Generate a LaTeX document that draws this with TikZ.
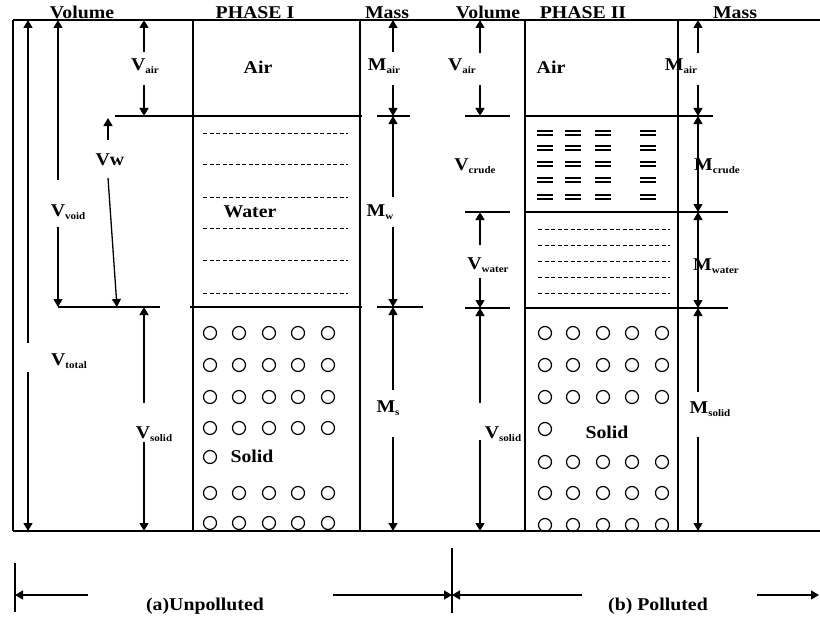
\documentclass[tikz,border=0pt]{standalone}
\usepackage{fontspec}
\setmainfont[FakeStretch=1.1]{Liberation Serif}
\usetikzlibrary{arrows.meta}
\newcommand{\lsub}[1]{\raisebox{-2.5pt}{\fontsize{10}{10}\selectfont #1}}
% dimension arrow with a gap: name, x, ytop, gap1, gap2, ybottom
\newcommand{\dimv}[6]{%
  \coordinate (#1-t) at (#2,#3);
  \coordinate (#1-a) at (#2,#4);
  \coordinate (#1-b) at (#2,#5);
  \coordinate (#1-e) at (#2,#6);
  \draw[dimarrow] (#1-a) -- (#1-t);
  \draw[dimarrow] (#1-b) -- (#1-e);}
\begin{document}
\begin{tikzpicture}[x=1pt,y=-1pt,line width=1.4pt,
  font=\fontsize{18}{20}\selectfont\bfseries,
  dimarrow/.style={line width=1.3pt,-{Triangle[length=8pt,width=9pt]}},
  dimboth/.style={line width=1.3pt,{Triangle[length=8pt,width=9pt]}-{Triangle[length=8pt,width=9pt]}},
  lbl/.style={inner sep=0pt,anchor=center},
  hdr/.style={inner sep=0pt,anchor=base},
  waterline/.style={line width=0.9pt,dash pattern=on 4pt off 2.5pt},
  grain/.style={line width=1.2pt},
  crude/.style={line width=1.8pt}]
\useasboundingbox (0,0) rectangle (820,618);

% frame
\draw (13,20) -- (820,20);
\draw (13,531) -- (820,531);
\draw (13,20) -- (13,531);
% boxes
\draw (193,20) -- (193,531);
\draw (360,20) -- (360,531);
\draw (525,20) -- (525,531);
\draw (678,20) -- (678,531);

% phase I boundaries
\draw (115,116) -- (362,116);
\draw (377,116) -- (410,116);
\draw (58,307) -- (160,307);
\draw (190,307) -- (362,307);
\draw (377,307) -- (423,307);

% phase II boundaries
\draw (465,116) -- (510,116);
\draw (525,116) -- (713,116);
\draw (465,212) -- (510,212);
\draw (525,212) -- (728,212);
\draw (465,308) -- (510,308);
\draw (525,308) -- (728,308);

% headers
\node[hdr] (hvol1) at (82,18.5) {Volume};
\node[hdr] (hph1) at (255,18.5) {PHASE I};
\node[hdr] (hmas1) at (387,18.5) {Mass};
\node[hdr] (hvol2) at (488,18.5) {Volume};
\node[hdr] (hph2) at (583,18.5) {PHASE II};
\node[hdr] (hmas2) at (735,18.5) {Mass};

% phase I contents
\node[lbl] (air1) at (258,67) {Air};
\foreach \y in {133,164,197,228,260,293}
  \draw[waterline] (203,\y) -- (348,\y);
\node[lbl] (water1) at (250,212) {Water};
\foreach \x in {210,239,269,298,328}
  \foreach \y in {333,365,397,428,493,523}
    \draw[grain] (\x,\y) circle[radius=6.5];
\draw[grain] (210,457) circle[radius=6.5];
\node[lbl] (solid1) at (252,456) {Solid};

% phase II contents
\node[lbl] (air2) at (551,67) {Air};
\foreach \x in {537,565,595,640}
  \foreach \y in {133,148,164,180,197} {
    \draw[crude] (\x,\y-2.3) -- ++(16,0);
    \draw[crude] (\x,\y+2.3) -- ++(16,0);
  }
\foreach \y in {229,245,261,277,293}
  \draw[waterline] (538,\y) -- (670,\y);
\foreach \x in {545,573,603,632,662}
  \foreach \y in {333,365,397,462,493,525}
    \draw[grain] (\x,\y) circle[radius=6.5];
\draw[grain] (545,429) circle[radius=6.5];
\node[lbl] (solid2) at (607,432) {Solid};

% phase I volume dimensions
\dimv{vtot}{28}{20}{343}{372}{531}
\node[lbl] (vtotal) at (69,361) {V\lsub{total}};
\dimv{vvoid}{58}{20}{180}{227}{307}
\node[lbl] (vvoidl) at (68,212) {V\lsub{void}};
\dimv{vair1}{144}{20}{52}{85}{116}
\node[lbl] (vair1l) at (145,66) {V\lsub{air}};
\coordinate (vw-t) at (108,118);
\coordinate (vw-a) at (108,140);
\coordinate (vw-b) at (108,178);
\coordinate (vw-e) at (117,307);
\draw[dimarrow] (vw-a) -- (vw-t);
\draw[dimarrow] (vw-b) -- (vw-e);
\node[lbl] (vwl) at (110,160) {Vw};
\dimv{vsol1}{144}{307}{403}{442}{531}
\node[lbl] (vsol1l) at (154,434) {V\lsub{solid}};

% phase I mass dimensions
\dimv{mair1}{393}{20}{52}{85}{116}
\node[lbl] (mair1l) at (384,66) {M\lsub{air}};
\dimv{mw1}{393}{116}{197}{227}{307}
\node[lbl] (mw1l) at (380,212) {M\lsub{w}};
\dimv{ms1}{393}{307}{390}{437}{531}
\node[lbl] (ms1l) at (388,408) {M\lsub{s}};

% phase II volume dimensions
\dimv{vair2}{480}{20}{53}{85}{116}
\node[lbl] (vair2l) at (462,66) {V\lsub{air}};
\node[lbl] (vcrude) at (475,166) {V\lsub{crude}};
\dimv{vwat2}{480}{212}{245}{278}{308}
\node[lbl] (vwat2l) at (488,265) {V\lsub{water}};
\dimv{vsol2}{480}{308}{403}{440}{531}
\node[lbl] (vsol2l) at (503,434) {V\lsub{solid}};

% phase II mass dimensions
\dimv{mair2}{698}{20}{53}{85}{116}
\node[lbl] (mair2l) at (681,66) {M\lsub{air}};
\coordinate (mcr-t) at (698,116);
\coordinate (mcr-e) at (698,212);
\draw[dimboth] (mcr-t) -- (mcr-e);
\node[lbl] (mcrl) at (717,166) {M\lsub{crude}};
\coordinate (mwa-t) at (698,212);
\coordinate (mwa-e) at (698,308);
\draw[dimboth] (mwa-t) -- (mwa-e);
\node[lbl] (mwal) at (716,266) {M\lsub{water}};
\dimv{msol2}{698}{308}{392}{437}{531}
\node[lbl] (msol2l) at (710,409) {M\lsub{solid}};

% bottom captions
\coordinate (tickA-t) at (15,563);
\coordinate (tickA-b) at (15,612);
\draw (tickA-t) -- (tickA-b);
\coordinate (tickB-t) at (452,548);
\coordinate (tickB-b) at (452,613);
\draw (tickB-t) -- (tickB-b);
\coordinate (capA1) at (88,595);
\coordinate (capA0) at (15,595);
\coordinate (capA2) at (333,595);
\coordinate (capB0) at (452,595);
\coordinate (capB1) at (582,595);
\coordinate (capB2) at (757,595);
\coordinate (capBe) at (819,595);
\draw[dimarrow] (capA1) -- (capA0);
\draw[dimarrow] (capA2) -- (capB0);
\draw[dimarrow] (capB1) -- (capB0);
\draw[dimarrow] (capB2) -- (capBe);
\node[hdr] (capA) at (205,610) {(a)Unpolluted};
\node[hdr] (capB) at (658,610) {(b) Polluted};
\end{tikzpicture}
\end{document}
